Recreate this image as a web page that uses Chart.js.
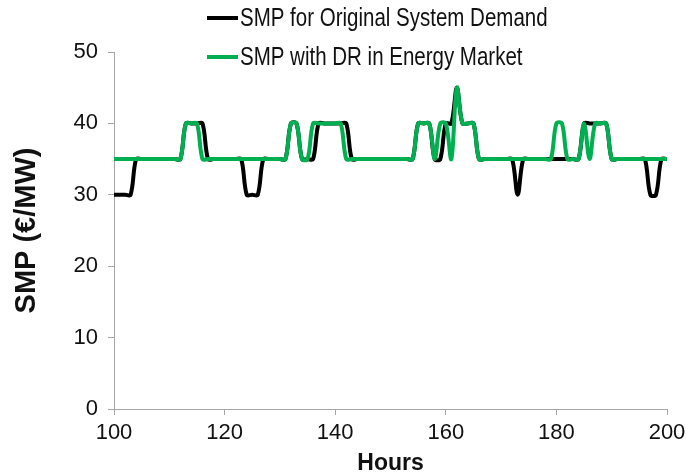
<!DOCTYPE html>
<html>
<head>
<meta charset="utf-8">
<script src="https://cdn.jsdelivr.net/npm/chart.js@4.4.1/dist/chart.umd.min.js"></script>
<style>
  html, body { margin: 0; padding: 0; background: #fff; }
  #wrap { width: 686px; height: 475px; }
</style>
</head>
<body>
<div id="wrap"><canvas id="smpChart" width="686" height="475"></canvas></div>
<script>
const hours = [
  100, 101, 102, 103, 104, 105, 106, 107, 108, 109,
  110, 111, 112, 113, 114, 115, 116, 117, 118, 119,
  120, 121, 122, 123, 124, 125, 126, 127, 128, 129,
  130, 131, 132, 133, 134, 135, 136, 137, 138, 139,
  140, 141, 142, 143, 144, 145, 146, 147, 148, 149,
  150, 151, 152, 153, 154, 155, 156, 157, 158, 159,
  160, 161, 162, 163, 164, 165, 166, 167, 168, 169,
  170, 171, 172, 173, 174, 175, 176, 177, 178, 179,
  180, 181, 182, 183, 184, 185, 186, 187, 188, 189,
  190, 191, 192, 193, 194, 195, 196, 197, 198, 199,
  200
];

// SMP for original system demand
const smpOriginal = [
  30, 30, 30, 30, 35, 35, 35, 35, 35, 35,
  35, 35, 35, 40, 40, 40, 40, 35, 35, 35,
  35, 35, 35, 35, 30, 30, 30, 35, 35, 35,
  35, 35, 40, 40, 35, 35, 35, 40, 40, 40,
  40, 40, 40, 35, 35, 35, 35, 35, 35, 35,
  35, 35, 35, 35, 35, 40, 40, 40, 35, 35,
  40, 40, 45, 40, 40, 40, 35, 35, 35, 35,
  35, 35, 35, 30, 35, 35, 35, 35, 35, 35,
  35, 35, 35, 35, 35, 40, 40, 40, 40, 40,
  35, 35, 35, 35, 35, 35, 35, 30, 30, 35,
  35
];

// SMP with DR in energy market
const smpWithDR = [
  35, 35, 35, 35, 35, 35, 35, 35, 35, 35,
  35, 35, 35, 40, 40, 40, 35, 35, 35, 35,
  35, 35, 35, 35, 35, 35, 35, 35, 35, 35,
  35, 35, 40, 40, 35, 35, 40, 40, 40, 40,
  40, 40, 35, 35, 35, 35, 35, 35, 35, 35,
  35, 35, 35, 35, 35, 40, 40, 40, 35, 40,
  40, 35, 45, 40, 40, 40, 35, 35, 35, 35,
  35, 35, 35, 35, 35, 35, 35, 35, 35, 35,
  40, 40, 35, 35, 35, 40, 35, 40, 40, 40,
  35, 35, 35, 35, 35, 35, 35, 35, 35, 35,
  35
];

const xTicks = [100, 120, 140, 160, 180, 200];
const yTicks = [0, 10, 20, 30, 40, 50];

const FONT = "'Liberation Sans', Arial, sans-serif";
const AXIS_GREY = "#a6a6a6";

function toPoints(values) {
  return hours.map((h, i) => ({ x: h, y: values[i] }));
}

// two stacked legend rows above the plot; text squeezed a bit like the original
const stackedLegend = {
  id: "stackedLegend",
  afterDraw(chart) {
    const ctx = chart.ctx;
    const rows = [18, 57];
    const squeeze = 0.82;
    ctx.save();
    ctx.font = `25px ${FONT}`;
    ctx.textBaseline = "middle";
    ctx.textAlign = "left";
    chart.data.datasets.forEach((ds, i) => {
      const y = rows[i];
      ctx.strokeStyle = ds.borderColor;
      ctx.lineWidth = 4;
      ctx.beginPath();
      ctx.moveTo(207, y);
      ctx.lineTo(238, y);
      ctx.stroke();
      ctx.save();
      ctx.translate(240, y + 1);
      ctx.scale(squeeze, 1);
      ctx.fillStyle = "#111";
      ctx.fillText(ds.label, 0, 0);
      ctx.restore();
    });
    ctx.restore();
  }
};

document.addEventListener("DOMContentLoaded", () => {
  const ctx = document.getElementById("smpChart");
  new Chart(ctx, {
    type: "line",
    data: {
      datasets: [
        {
          label: "SMP for Original System Demand",
          data: toPoints(smpOriginal),
          borderColor: "#000000",
          borderWidth: 4,
          pointRadius: 0,
          tension: 0.35,
          order: 2
        },
        {
          label: "SMP with DR in Energy Market",
          data: toPoints(smpWithDR),
          borderColor: "#00b050",
          borderWidth: 4,
          pointRadius: 0,
          tension: 0.35,
          order: 1
        }
      ]
    },
    options: {
      responsive: false,
      animation: false,
      layout: { padding: { top: 52, right: 19, left: 0, bottom: 0 } },
      plugins: {
        legend: { display: false },
        tooltip: { enabled: false }
      },
      scales: {
        x: {
          type: "linear",
          min: 100,
          max: 200,
          afterBuildTicks: (scale) => { scale.ticks = xTicks.map(v => ({ value: v })); },
          afterFit: (scale) => {
            scale.height = 66;
            scale.paddingLeft = 0;
            scale.paddingRight = 0;
          },
          grid: { display: true, drawOnChartArea: false, drawTicks: true, tickLength: 6, color: AXIS_GREY },
          border: { display: true, color: AXIS_GREY, width: 1 },
          ticks: { color: "#111", padding: 5, maxRotation: 0, font: { family: FONT, size: 22 } },
          title: {
            display: true,
            text: "Hours",
            color: "#111",
            padding: { top: 0, bottom: 0 },
            font: { family: FONT, size: 23, weight: "bold", lineHeight: 1 }
          }
        },
        y: {
          min: 0,
          max: 50,
          afterBuildTicks: (scale) => { scale.ticks = yTicks.map(v => ({ value: v })); },
          afterFit: (scale) => { scale.width = 114; },
          grid: { display: true, drawOnChartArea: false, drawTicks: true, tickLength: 6, color: AXIS_GREY },
          border: { display: true, color: AXIS_GREY, width: 1 },
          ticks: { color: "#111", padding: 10, font: { family: FONT, size: 22 } },
          title: {
            display: true,
            text: "SMP (€/MW)",
            color: "#111",
            padding: { top: 10, bottom: 0 },
            font: { family: FONT, size: 29, weight: "bold", lineHeight: 1.2 }
          }
        }
      }
    },
    plugins: [stackedLegend]
  });
});
</script>
</body>
</html>
